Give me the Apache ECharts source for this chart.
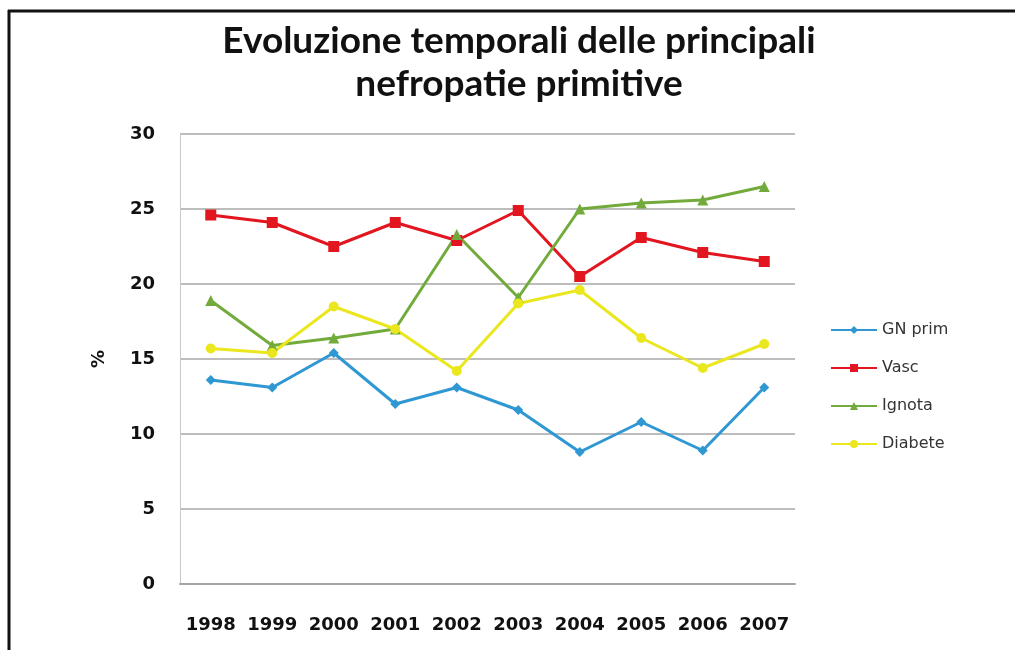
<!DOCTYPE html>
<html>
<head>
<meta charset="utf-8">
<script src="https://cdn.jsdelivr.net/npm/echarts@6/dist/echarts.min.js"></script>
<style>
  html, body { margin: 0; padding: 0; background: #fff; }
  #chart { width: 1015px; height: 650px; }
</style>
</head>
<body>
<div id="chart"></div>
<script>
// data
const years = ['1998', '1999', '2000', '2001', '2002', '2003', '2004', '2005', '2006', '2007']
const gnPrim = [13.6, 13.1, 15.4, 12.0, 13.1, 11.6, 8.8, 10.8, 8.9, 13.1]
const vasc = [24.6, 24.1, 22.5, 24.1, 22.9, 24.9, 20.5, 23.1, 22.1, 21.5]
const ignota = [18.9, 15.9, 16.4, 17.0, 23.3, 19.1, 25.0, 25.4, 25.6, 26.5]
const diabete = [15.7, 15.4, 18.5, 17.0, 14.2, 18.7, 19.6, 16.4, 14.4, 16.0]
const yTicks = [0, 5, 10, 15, 20, 25, 30]

const titleFont = 'Lato, "Open Sans", sans-serif'
const tickFont = '"DejaVu Sans", sans-serif'

function lineSeries (name, data, color, symbol, size) {
  return {
    name: name,
    type: 'line',
    data: data,
    symbol: symbol,
    symbolSize: size,
    lineStyle: { color: color, width: 3 },
    itemStyle: { color: color },
    emphasis: { disabled: true }
  }
}

const chart = echarts.init(document.getElementById('chart'))
const option = {
  animation: false,
  backgroundColor: '#fff',
  title: {
    text: 'Evoluzione temporali delle principali\nnefropatie primitive',
    left: 514,
    textAlign: 'center',
    top: 15,
    textStyle: { fontFamily: titleFont, fontSize: 37, fontWeight: 'bold', color: '#111', lineHeight: 43 }
  },
  graphic: [
    { type: 'line', shape: { x1: 8, y1: 11, x2: 1015, y2: 11 }, style: { stroke: '#111', lineWidth: 3 } },
    { type: 'line', shape: { x1: 9, y1: 10, x2: 9, y2: 650 }, style: { stroke: '#111', lineWidth: 3 } }
  ],
  legend: {
    orient: 'vertical',
    left: 825,
    top: 317,
    itemWidth: 46,
    itemHeight: 10,
    itemGap: 22,
    textStyle: { fontFamily: tickFont, fontSize: 16, color: '#333' },
    data: ['GN prim', 'Vasc', 'Ignota', 'Diabete']
  },
  grid: { left: 180, right: 220, top: 134, bottom: 66 },
  xAxis: {
    type: 'category',
    data: years,
    boundaryGap: true,
    axisLine: { lineStyle: { color: '#a6a6a6', width: 2 } },
    axisTick: { show: false },
    axisLabel: { interval: 0, margin: 32, fontFamily: tickFont, fontSize: 18, fontWeight: 'bold', color: '#111' }
  },
  yAxis: {
    type: 'value',
    min: yTicks[0],
    max: yTicks[yTicks.length - 1],
    interval: 5,
    name: '%',
    nameLocation: 'middle',
    nameGap: 72,
    nameRotate: 90,
    nameTextStyle: { fontFamily: tickFont, fontSize: 18, fontWeight: 'bold', color: '#111' },
    axisLine: { show: true, lineStyle: { color: '#c8c8c8', width: 1 } },
    axisTick: { show: false },
    axisLabel: { margin: 25, fontFamily: tickFont, fontSize: 18, fontWeight: 'bold', color: '#111' },
    splitLine: { lineStyle: { color: '#bdbdbd', width: 2 } }
  },
  series: [
    lineSeries('GN prim', gnPrim, '#2f97d2', 'diamond', 10),
    lineSeries('Vasc', vasc, '#e2161f', 'rect', 11),
    lineSeries('Ignota', ignota, '#72ab3b', 'triangle', 11),
    lineSeries('Diabete', diabete, '#ebe71e', 'circle', 10)
  ]
}
chart.setOption(option)
</script>
</body>
</html>
